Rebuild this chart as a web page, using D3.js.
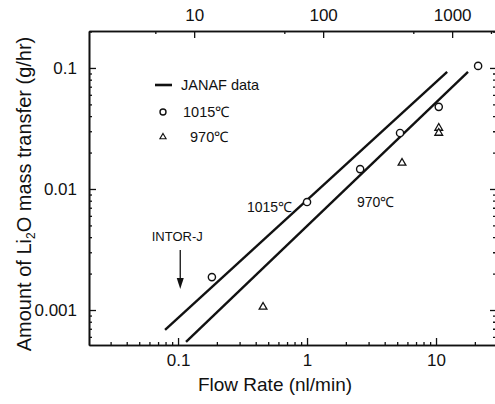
<!DOCTYPE html>
<html>
<head>
<meta charset="utf-8">
<script src="https://cdn.jsdelivr.net/npm/d3@7"></script>
<style>
  body { margin: 0; background: #fff; }
  svg { display: block; }
  text { font-family: "Liberation Sans", Arial, sans-serif; fill: #111; }
</style>
</head>
<body>
<div id="container"></div>
<script>
// measured points, flow rate (nl/min) vs Li2O transfer (g/hr)
const flow1015 = [0.183, 1.0, 2.58, 5.26, 10.5, 21.2];
const mass1015 = [0.00187, 0.0078, 0.0146, 0.029, 0.0477, 0.104];
const flow970 = [0.456, 5.45, 10.5, 10.5];
const mass970 = [0.00106, 0.0164, 0.0319, 0.029];

// JANAF lines (end points)
const janafFlow1015 = [0.0793, 12.2];
const janafMass1015 = [0.000684, 0.0927];
const janafFlow970 = [0.1153, 17.7];
const janafMass970 = [0.000545, 0.0927];

// ticks
const bottomTicks = [0.1, 1, 10];
const topTicks = [10, 100, 1000];
const topMinor = [5, 50, 500, 2000];
const leftTicks = [0.001, 0.01, 0.1];
const topFactor = 75;   // top axis = bottom axis * 75

const w = 495, h = 404;
const padL = 89, padR = 497, padT = 31, padB = 345;

const x = d3.scaleLog().domain([0.0204, 29.7]).range([padL, padR]);
const y = d3.scaleLog().domain([0.000514, 0.202]).range([padB, padT]);
const xTop = d3.scaleLog()
               .domain(x.domain().map(d => d * topFactor))
               .range([padL, padR]);

const svg = d3.select("#container")
              .append("svg")
              .attr("width", w)
              .attr("height", h);

const xMinor = x.ticks().filter(d => !bottomTicks.some(t => Math.abs(t - d) < 1e-9));
const yMinor = y.ticks().filter(d => !leftTicks.some(t => Math.abs(t - d) < 1e-9));

// axes, ticks pointing inward
function styleAxis(g) {
  g.select(".domain").attr("stroke", "#111").attr("stroke-width", 1.6);
  g.selectAll(".tick line").attr("stroke", "#111").attr("stroke-width", 1.3);
  g.selectAll("text").style("font-size", "17px").attr("fill", "#111");
}

svg.append("g")
   .attr("transform", "translate(0," + padB + ")")
   .call(d3.axisBottom(x).tickValues(xMinor).tickSize(-3).tickSizeOuter(0).tickFormat(""))
   .call(styleAxis);
svg.append("g")
   .attr("transform", "translate(0," + padB + ")")
   .call(d3.axisBottom(x).tickValues(bottomTicks).tickSize(-7).tickSizeOuter(0)
           .tickPadding(9).tickFormat(d => String(d)))
   .call(styleAxis);

svg.append("g")
   .attr("transform", "translate(0," + padT + ")")
   .call(d3.axisTop(xTop).tickValues(topMinor).tickSize(-3).tickSizeOuter(0).tickFormat(""))
   .call(styleAxis);
svg.append("g")
   .attr("transform", "translate(0," + padT + ")")
   .call(d3.axisTop(xTop).tickValues(topTicks).tickSize(-7).tickSizeOuter(0)
           .tickPadding(10).tickFormat(d => String(d)))
   .call(styleAxis);

svg.append("g")
   .attr("transform", "translate(" + padL + ",0)")
   .call(d3.axisLeft(y).tickValues(yMinor).tickSize(-3).tickSizeOuter(0).tickFormat(""))
   .call(styleAxis);
svg.append("g")
   .attr("transform", "translate(" + padL + ",0)")
   .call(d3.axisLeft(y).tickValues(leftTicks).tickSize(-7).tickSizeOuter(0)
           .tickPadding(12).tickFormat(d => String(d)))
   .call(styleAxis);

svg.append("g")
   .attr("transform", "translate(" + padR + ",0)")
   .call(d3.axisRight(y).tickValues(yMinor).tickSize(-4).tickSizeOuter(0).tickFormat(""))
   .call(styleAxis);
svg.append("g")
   .attr("transform", "translate(" + padR + ",0)")
   .call(d3.axisRight(y).tickValues(leftTicks).tickSize(-7).tickSizeOuter(0).tickFormat(""))
   .call(styleAxis);

// JANAF lines
const line = d3.line().x(d => x(d[0])).y(d => y(d[1]));
[[janafFlow1015, janafMass1015], [janafFlow970, janafMass970]].forEach(function(s) {
  svg.append("path")
     .datum(s[0].map((f, i) => [f, s[1][i]]))
     .attr("d", line)
     .attr("fill", "none")
     .attr("stroke", "#111")
     .attr("stroke-width", 2.4);
});

// points
const tri = d3.symbol().type(d3.symbolTriangle).size(26);

svg.selectAll("circle.p1015")
   .data(flow1015.map((f, i) => [f, mass1015[i]]))
   .enter()
   .append("circle")
   .attr("class", "p1015")
   .attr("cx", d => x(d[0]))
   .attr("cy", d => y(d[1]))
   .attr("r", 3.6)
   .attr("fill", "#fff")
   .attr("stroke", "#111")
   .attr("stroke-width", 1.4);

svg.selectAll("path.p970")
   .data(flow970.map((f, i) => [f, mass970[i]]))
   .enter()
   .append("path")
   .attr("class", "p970")
   .attr("d", tri)
   .attr("transform", d => "translate(" + x(d[0]) + "," + y(d[1]) + ")")
   .attr("fill", "#fff")
   .attr("stroke", "#111")
   .attr("stroke-width", 1.3);

// legend
svg.append("line")
   .attr("x1", 155).attr("x2", 172).attr("y1", 85).attr("y2", 85)
   .attr("stroke", "#111").attr("stroke-width", 2.6);
svg.append("text").attr("x", 181).attr("y", 90).style("font-size", "14.5px").text("JANAF data");
svg.append("circle").attr("cx", 163).attr("cy", 112).attr("r", 3)
   .attr("fill", "#fff").attr("stroke", "#111").attr("stroke-width", 1.4);
svg.append("text").attr("x", 183).attr("y", 117).style("font-size", "14.5px").text("1015℃");
svg.append("path").attr("d", tri).attr("transform", "translate(163,137) scale(0.8)")
   .attr("fill", "#fff").attr("stroke", "#111").attr("stroke-width", 1.4);
svg.append("text").attr("x", 190).attr("y", 142).style("font-size", "14.5px").text("970℃");

// line labels
svg.append("text").attr("x", 247).attr("y", 212).style("font-size", "14px").text("1015℃");
svg.append("text").attr("x", 357).attr("y", 207).style("font-size", "14px").text("970℃");

// INTOR-J marker
const intorFlow = 0.104;
svg.append("text").attr("x", x(intorFlow) - 3).attr("y", 241)
   .attr("text-anchor", "middle").style("font-size", "13px").text("INTOR-J");
svg.append("line")
   .attr("x1", x(intorFlow)).attr("x2", x(intorFlow)).attr("y1", 250).attr("y2", 282)
   .attr("stroke", "#111").attr("stroke-width", 1.3);
svg.append("path")
   .attr("d", "M" + (x(intorFlow) - 3.5) + ",278 L" + x(intorFlow) + ",289 L" + (x(intorFlow) + 3.5) + ",278 Z")
   .attr("fill", "#111");

// axis titles
svg.append("text")
   .attr("x", 275).attr("y", 391)
   .attr("text-anchor", "middle")
   .style("font-size", "19px")
   .text("Flow Rate (nl/min)");

const yTitle = svg.append("text")
   .attr("transform", "translate(31,194) rotate(-90)")
   .attr("text-anchor", "middle")
   .style("font-size", "20px");
yTitle.append("tspan").text("Amount of Li");
yTitle.append("tspan").attr("dy", 4).style("font-size", "12px").text("2");
yTitle.append("tspan").attr("dy", -4).text("O mass transfer  (g/hr)");
</script>
</body>
</html>
